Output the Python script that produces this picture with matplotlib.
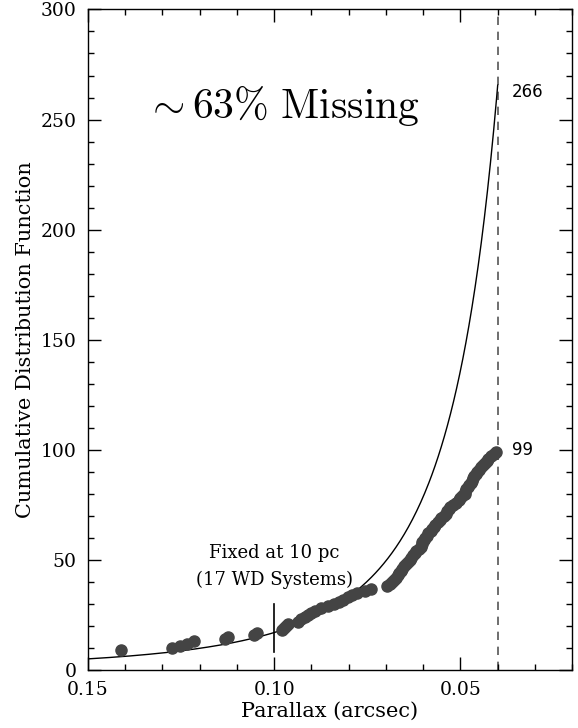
import numpy as np
import matplotlib
matplotlib.use("Agg")
import matplotlib.pyplot as plt
from matplotlib.ticker import MultipleLocator

# white dwarf systems, sorted by parallax (arcsec); first 8 lie beyond 0.15"
first_rank = 9
parallax = [
    0.1412, 0.1273, 0.1254, 0.1235, 0.1214, 0.1131, 0.1123, 0.1053, 0.1045,
    0.0979, 0.0973, 0.0968, 0.0963, 0.0936, 0.0928, 0.0917, 0.0909, 0.0901,
    0.0890, 0.0874, 0.0856, 0.0840, 0.0826, 0.0816, 0.0802, 0.0791, 0.0778,
    0.0757, 0.0741, 0.0698, 0.0690, 0.0684, 0.0679, 0.0674, 0.0668, 0.0666,
    0.0660, 0.0658, 0.0652, 0.0647, 0.0642, 0.0636, 0.0634, 0.0628, 0.0623,
    0.0618, 0.0612, 0.0607, 0.0604, 0.0602, 0.0599, 0.0596, 0.0591, 0.0586,
    0.0580, 0.0575, 0.0570, 0.0567, 0.0561, 0.0556, 0.0551, 0.0545, 0.0540,
    0.0537, 0.0532, 0.0527, 0.0521, 0.0513, 0.0505, 0.0500, 0.0495, 0.0489,
    0.0487, 0.0484, 0.0479, 0.0476, 0.0473, 0.0468, 0.0465, 0.0463, 0.0457,
    0.0455, 0.0449, 0.0444, 0.0439, 0.0433, 0.0430, 0.0425, 0.0417, 0.0409,
    0.0404,
]
cdf = np.arange(first_rank, first_rank + len(parallax))

# uniform density model, normalised to the 17 systems inside 10 pc
n_10pc = 17
plx_10pc = 0.10
plx_25pc = 0.04
n_expected = 266
n_found = 99

plt.rcParams["mathtext.fontset"] = "cm"
serif = "DejaVu Serif"

fig = plt.figure(figsize=(5.78, 7.28), dpi=100)
ax = fig.add_axes([0.152, 0.0797, 0.838, 0.9073])

p = np.linspace(0.15, plx_25pc, 400)
ax.plot(p, n_10pc * (plx_10pc / p) ** 3, color="black", lw=1.0, zorder=2)

ax.plot(parallax, cdf, "o", color="#444444", ms=8, mec="#444444", zorder=3)

ax.axvline(plx_25pc, color="#555555", lw=1.2, ls=(0, (5, 4)), zorder=1)
ax.plot([plx_10pc, plx_10pc], [8, 30], color="black", lw=1.2, zorder=4)

ax.set_xlim(0.15, 0.02)
ax.set_ylim(0, 300)

ax.xaxis.set_major_locator(MultipleLocator(0.05))
ax.xaxis.set_minor_locator(MultipleLocator(0.01))
ax.yaxis.set_major_locator(MultipleLocator(50))
ax.yaxis.set_minor_locator(MultipleLocator(10))
ax.set_xticks([0.15, 0.10, 0.05])
ax.set_xticklabels(["0.15", "0.10", "0.05"])
ax.tick_params(which="both", direction="in", top=True, right=True,
               width=1.0, labelsize=13.5, pad=8)
ax.tick_params(which="major", length=9.5)
ax.tick_params(which="minor", length=4.5)
for lab in ax.get_xticklabels() + ax.get_yticklabels():
    lab.set_family(serif)

ax.set_xlabel("Parallax (arcsec)", family=serif, fontsize=15, labelpad=2)
ax.set_ylabel("Cumulative Distribution Function", family=serif,
              fontsize=15, labelpad=4)

ax.text(0.0979, 256, r"$\sim\mathrm{63\%\ Missing}$", fontsize=30,
        ha="center", va="center")
ax.text(0.10, 53, "Fixed at 10 pc", family=serif, fontsize=13,
        ha="center", va="center")
ax.text(0.10, 41, "(17 WD Systems)", family=serif, fontsize=13,
        ha="center", va="center")
ax.text(0.0362, 262.5, str(n_expected), fontsize=12, ha="left",
        va="center")
ax.text(0.0362, n_found + 0.8, str(n_found), fontsize=12, ha="left",
        va="center")

for s in ax.spines.values():
    s.set_linewidth(1.0)

fig.savefig("out.png", dpi=100)
